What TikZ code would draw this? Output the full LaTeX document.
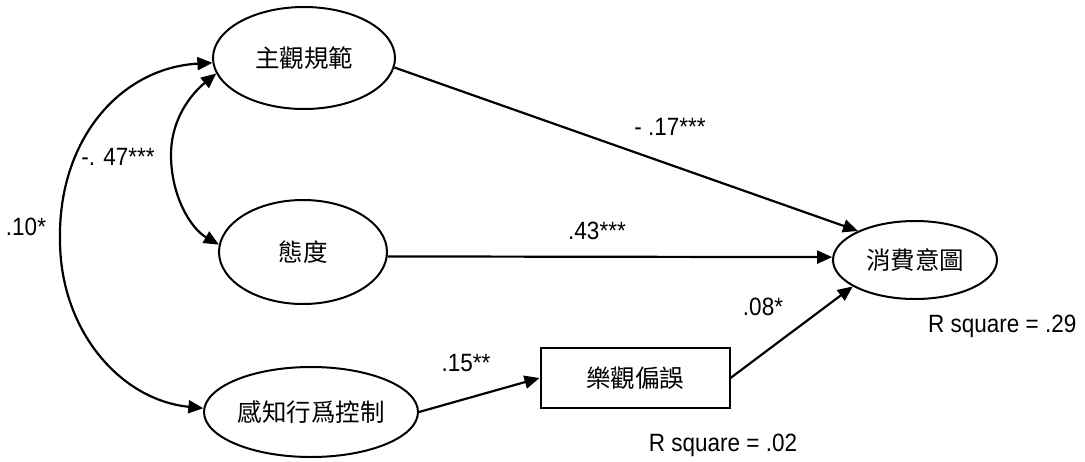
\documentclass[tikz,border=0pt]{standalone}
\usepackage{fontspec}
\setmainfont{Liberation Sans}[FakeStretch=0.9]
\newfontfamily\cjk{Noto Sans CJK TC}
\usetikzlibrary{arrows.meta,shapes.geometric}
\begin{document}
\begin{tikzpicture}[x=1pt,y=-1pt,
  every node/.style={inner sep=0pt},
  var/.style={ellipse,draw,line width=2pt,font=\cjk\fontsize{24.5}{28}\selectfont},
  boxnode/.style={rectangle,draw,line width=2pt,font=\cjk\fontsize{24.5}{28}\selectfont},
  lab/.style={font=\fontsize{25}{28}\selectfont},
  conn/.style={line width=2.2pt,-{Triangle[length=15pt,width=13pt]}},
  dconn/.style={line width=2.2pt,{Triangle[length=15pt,width=13pt]}-{Triangle[length=15pt,width=13pt]}}]
\useasboundingbox (0,0) rectangle (1085,461);
\node[var,minimum width=182pt,minimum height=102pt] (sn) at (304,58) {主觀規範};
\node[var,minimum width=168pt,minimum height=104pt] (att) at (303,252) {態度};
\node[var,minimum width=214pt,minimum height=90pt] (pbc) at (311,412) {感知行爲控制};
\node[var,minimum width=164pt,minimum height=78pt] (ci) at (915,260) {消費意圖};
\node[boxnode,minimum width=189pt,minimum height=60pt] (ob) at (635,378) {樂觀偏誤};
% paths
\draw[conn] (sn.-6) -- (ci.153);
\draw[conn] (att.-3) -- (ci.178);
\draw[conn] (pbc.east) -- (ob.west);
\draw[conn] (ob.east) -- (ci.203);
\draw[dconn] (sn.183) .. controls (120,68) and (58,140) .. (60,240) .. controls (60,330) and (120,400) .. (pbc.178);
\draw[dconn] (sn.190) .. controls (190,95) and (171,120) .. (171,155) .. controls (171,195) and (190,228) .. (att.175);
% labels
\node[lab] (l1) at (670,127) {- .17***};
\node[lab] (l2) at (597,231) {.43***};
\node[lab] (l3) at (466,363) {.15**};
\node[lab] (l4) at (763,307) {.08*};
\node[lab] (l5) at (723,445) {R square = .02};
\node[lab,anchor=west] (l6) at (928,326) {R square = .29};
\node[lab] (l7) at (118,157) {-. 47***};
\node[lab] (l8) at (26,227) {.10*};
\end{tikzpicture}
\end{document}
